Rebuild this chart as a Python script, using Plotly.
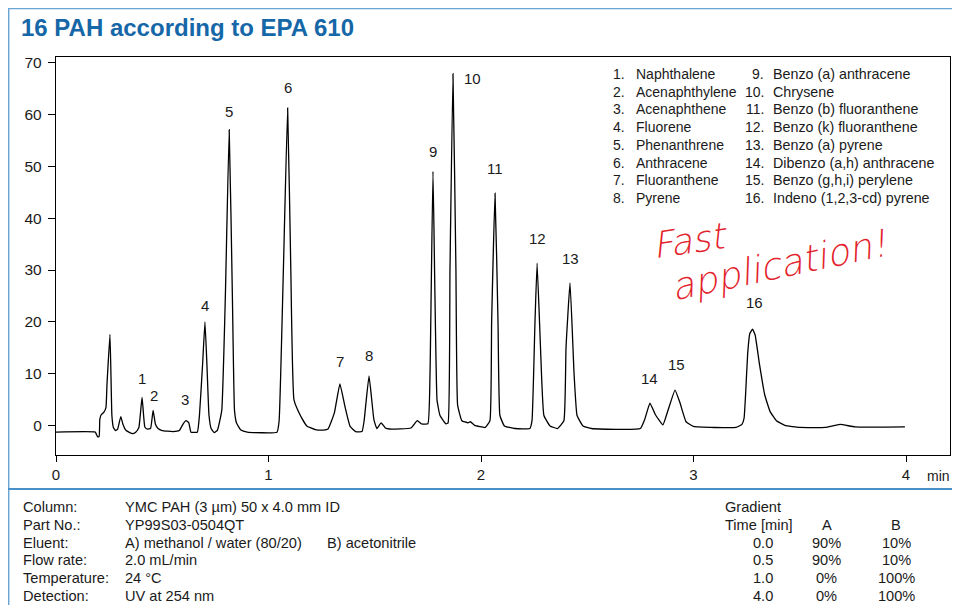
import plotly.graph_objects as go

# ---- data ----
time_min = [0.0, 0.185, 0.19, 0.196, 0.203, 0.206, 0.212, 0.225, 0.235, 0.24, 0.254, 0.263, 0.27, 0.28,
            0.29, 0.305, 0.315, 0.33, 0.36, 0.375, 0.39, 0.405, 0.418, 0.43, 0.445, 0.457, 0.468, 0.48,
            0.5, 0.55, 0.58, 0.6, 0.612, 0.625, 0.635, 0.665, 0.675, 0.69, 0.701, 0.71, 0.72, 0.73,
            0.745, 0.76, 0.78, 0.797, 0.815, 0.83, 0.84, 0.85, 0.87, 0.9, 1.04, 1.05, 1.07, 1.09,
            1.105, 1.12, 1.15, 1.18, 1.22, 1.26, 1.28, 1.31, 1.336, 1.36, 1.384, 1.41, 1.44, 1.45,
            1.473, 1.496, 1.51, 1.53, 1.55, 1.57, 1.67, 1.70, 1.72, 1.75, 1.76, 1.774, 1.793, 1.807,
            1.835, 1.845, 1.854, 1.868, 1.882, 1.89, 1.91, 1.939, 1.95, 1.97, 2.02, 2.042, 2.05, 2.066,
            2.08, 2.089, 2.11, 2.16, 2.23, 2.24, 2.254, 2.264, 2.28, 2.296, 2.325, 2.36, 2.39, 2.40,
            2.419, 2.438, 2.452, 2.48, 2.52, 2.75, 2.77, 2.795, 2.82, 2.856, 2.88, 2.913, 2.936, 2.965,
            3.0, 3.2, 3.228, 3.238, 3.245, 3.255, 3.265, 3.278, 3.29, 3.31, 3.335, 3.36, 3.39, 3.43,
            3.5, 3.62, 3.69, 3.76, 3.995]
signal = [-1.2, -1.2, -1.6, -2.1, -2.0, 1.2, 2.1, 2.6, 3.5, 8.0, 17.6, 2.0, -0.3, -0.9,
          -0.6, 1.8, 0.3, -0.9, -1.5, -1.2, -0.3, 5.5, -0.2, -0.6, -0.5, 3.0, 0.3, -0.5,
          -0.9, -1.1, -0.9, 0.5, 1.0, 0.6, -1.2, -1.2, 2.0, 12.0, 20.0, 12.0, 2.0, -0.5,
          -1.3, -0.8, 3.0, 25.0, 57.0, 25.0, 3.0, 0.5, -0.8, -1.2, -1.2, 1.0, 30.0, 61.2,
          30.0, 5.0, 2.0, 0.0, -0.7, -0.8, -0.6, 2.5, 8.1, 3.7, -0.1, -1.1, -1.1, 1.0,
          9.6, 1.2, -0.5, 0.6, -0.4, -0.6, -0.4, 1.0, 0.4, 0.4, 10.0, 49.0, 5.0, 2.0,
          0.4, 0.6, 30.0, 67.8, 30.0, 4.0, 1.0, 0.6, 0.8, 0.1, -0.3, 1.0, 20.0, 44.8,
          20.0, 2.0, 0.0, -0.5, -0.5, 1.0, 20.0, 31.3, 15.0, 2.0, 0.0, -0.5, 1.0, 15.0,
          27.5, 10.0, 2.0, 0.0, -0.5, -0.5, 1.2, 4.4, 2.2, 0.2, 3.0, 6.9, 4.5, 0.8,
          -0.1, -0.3, 0.3, 1.5, 6.0, 14.0, 17.8, 18.6, 17.5, 12.0, 6.0, 2.8, 1.0, 0.1,
          -0.3, -0.3, 0.3, -0.2, -0.2]

peak_ids = [str(i) for i in range(1, 17)]
peak_label_x = [0.405, 0.461, 0.607, 0.701, 0.814, 1.092, 1.336, 1.473, 1.774, 1.958, 2.066, 2.268,
                2.419, 2.795, 2.918, 3.285]
peak_label_y = [9.2, 5.8, 5.0, 23.1, 60.6, 65.2, 12.3, 13.5, 52.9, 66.9, 49.6, 36.0, 32.3, 9.2, 11.9, 23.8]

compounds = ["Naphthalene", "Acenaphthylene", "Acenaphthene", "Fluorene", "Phenanthrene", "Anthracene",
             "Fluoranthene", "Pyrene", "Benzo (a) anthracene", "Chrysene", "Benzo (b) fluoranthene",
             "Benzo (k) fluoranthene", "Benzo (a) pyrene", "Dibenzo (a,h) anthracene",
             "Benzo (g,h,i) perylene", "Indeno (1,2,3-cd) pyrene"]

x_ticks = [0, 1, 2, 3, 4]
y_ticks = [0, 10, 20, 30, 40, 50, 60, 70]

cond_labels = ["Column:", "Part No.:", "Eluent:", "Flow rate:", "Temperature:", "Detection:"]
cond_values = ["YMC PAH (3 µm) 50 x 4.0 mm ID", "YP99S03-0504QT",
               "A) methanol / water (80/20)|B) acetonitrile", "2.0 mL/min", "24 °C", "UV at 254 nm"]

grad_time = ["0.0", "0.5", "1.0", "4.0"]
grad_a = ["90%", "90%", "0%", "0%"]
grad_b = ["10%", "10%", "100%", "100%"]

# ---- layout helpers (page pixel -> paper); the page body has an 8px margin ----
OFF = 8
W, H = 960 - OFF, 605 - OFF
PL, PR, PT, PB = 56, 950, 57, 455           # plot box in page pixels
L, R, T, B = PL - OFF, 960 - PR, PT - OFF, 605 - PB
PW, PH = PR - PL, PB - PT


def px(x):
    return (x - PL) / PW


def py(y):
    return (PB - y) / PH


FONT = "Liberation Sans, Arial, Helvetica, sans-serif"
TXT = "#1a1a1a"
BLUE = "#6aa5d3"
RED = "#e3222b"
INFO = 14.6


def txt(x, y, s, size=13, xa="left", color=TXT, family=FONT, angle=0):
    return dict(x=px(x), y=py(y), xref="paper", yref="paper", text=s, xanchor=xa, yanchor="middle",
                showarrow=False, textangle=angle, font=dict(size=size, color=color, family=family))


fig = go.Figure()
fig.add_trace(go.Scatter(x=time_min, y=signal, mode="lines",
                         line=dict(color="black", width=1.3, shape="spline", smoothing=0.35),
                         hoverinfo="skip", showlegend=False))

ann = []
for lab, lx, ly in zip(peak_ids, peak_label_x, peak_label_y):
    ann.append(dict(x=lx, y=ly, xref="x", yref="y", text=lab, showarrow=False,
                    xanchor="center", yanchor="middle",
                    font=dict(size=15, color=TXT, family=FONT)))

# compound legend
for i, name in enumerate(compounds):
    col = i // 8
    row = i % 8
    yy = 74 + row * 17.7
    num_x = 627 if col == 0 else 766
    name_x = 634 if col == 0 else 771
    ann.append(txt(num_x, yy, f"{i + 1}.", size=14, xa="right"))
    ann.append(txt(name_x, yy, name, size=14.3 if col else 14, xa="left"))

# handwritten note
HAND = "DejaVu Sans Light, DejaVu Sans ExtraLight, DejaVu Sans"
ann.append(txt(690, 240, "<i>Fast</i>", size=36, xa="center", color=RED, family=HAND, angle=-8))
ann.append(txt(779, 265, "<i>application!</i>", size=37, xa="center", color=RED, family=HAND, angle=-12))

# title
ann.append(txt(19, 28, "<b>16 PAH according to EPA 610</b>", size=24, color="#1667a7"))

# min unit
ann.append(txt(938, 476, "min", size=14, xa="center"))

# conditions
for i, (lab, val) in enumerate(zip(cond_labels, cond_values)):
    yy = 507 + i * 17.8
    ann.append(txt(21, yy, lab, size=INFO))
    parts = val.split("|")
    ann.append(txt(123, yy, parts[0], size=INFO))
    if len(parts) > 1:
        ann.append(txt(325, yy, parts[1], size=INFO))

# gradient table
ann.append(txt(723, 507.5, "Gradient", size=INFO))
ann.append(txt(723, 525.3, "Time [min]", size=INFO))
ann.append(txt(826.5, 525.3, "A", xa="center", size=INFO))
ann.append(txt(895.5, 525.3, "B", xa="center", size=INFO))
for i, (t, a, b) in enumerate(zip(grad_time, grad_a, grad_b)):
    yy = 542.5 + i * 17.8
    for xx, s in ((763, t), (826.5, a), (896, b)):
        ann.append(txt(xx, yy, s, xa="center", size=INFO))

shapes = [
    dict(type="line", xref="paper", yref="paper", x0=px(7), x1=px(961), y0=py(8.5), y1=py(8.5),
         line=dict(color=BLUE, width=1.5)),
    dict(type="line", xref="paper", yref="paper", x0=px(8.7), x1=px(8.7), y0=py(8), y1=py(606),
         line=dict(color=BLUE, width=1.5)),
    dict(type="line", xref="paper", yref="paper", x0=px(8), x1=px(961), y0=py(489), y1=py(489),
         line=dict(color="#4a90c8", width=2)),
]

fig.update_layout(
    width=W, height=H,
    margin=dict(l=L, r=R, t=T, b=B),
    paper_bgcolor="white", plot_bgcolor="white",
    showlegend=False,
    annotations=ann,
    shapes=shapes,
    xaxis=dict(range=[0, 4.207], tickvals=x_ticks, ticks="outside", ticklen=6, tickwidth=1.2,
               tickcolor="black", showline=True, mirror=True, linecolor="black", linewidth=1.3,
               showgrid=False, zeroline=False, tickfont=dict(size=15, color=TXT, family=FONT)),
    yaxis=dict(range=[-5.6, 71], tickvals=y_ticks, ticks="outside", ticklen=7, tickwidth=1.2,
               tickcolor="black", showline=True, mirror=True, linecolor="black", linewidth=1.3,
               showgrid=False, zeroline=False, ticklabelstandoff=3,
               tickfont=dict(size=15.5, color=TXT, family=FONT)),
    font=dict(family=FONT, color=TXT),
)

fig.write_html("out.html")
